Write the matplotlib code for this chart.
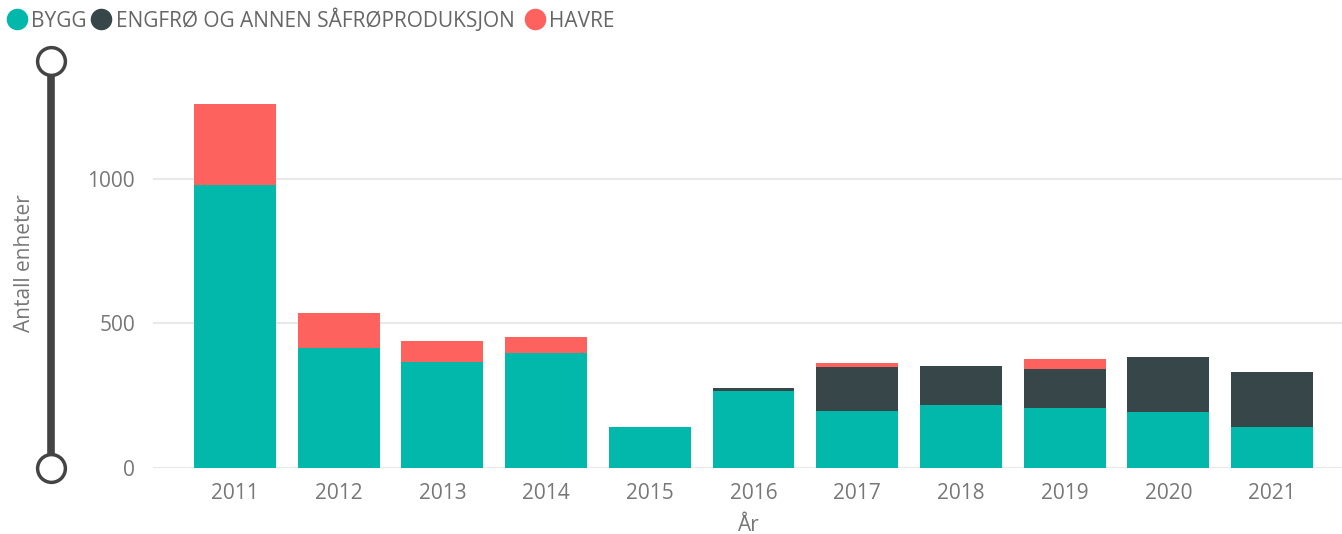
import matplotlib
matplotlib.use("Agg")
import matplotlib.pyplot as plt
from matplotlib.lines import Line2D
import numpy as np

years = ["2011", "2012", "2013", "2014", "2015", "2016", "2017", "2018", "2019", "2020", "2021"]
bygg = [980, 415, 367, 397, 141, 266, 196, 217, 207, 193, 141]
engfro = [0, 0, 0, 0, 0, 10, 153, 134, 135, 190, 190]
havre = [281, 121, 72, 56, 0, 0, 14, 0, 34, 0, 0]

series_names = ["BYGG", "ENGFRØ OG ANNEN SÅFRØPRODUKSJON", "HAVRE"]
colors = ["#01B8AA", "#374649", "#FD625E"]
yticks = [0, 500, 1000]

plt.rcParams['font.family'] = ['Open Sans', 'DejaVu Sans']
W, H = 1342, 534
fig = plt.figure(figsize=(W / 100, H / 100), dpi=100)

y0_px, top_px = 467.7, 60
left_px, right_px = 153, 1342
ax = fig.add_axes([left_px / W, 1 - y0_px / H, (right_px - left_px) / W, (y0_px - top_px) / H])

x = np.arange(len(years))
bw = 0.79
b1 = np.array(bygg)
b2 = b1 + np.array(engfro)
ax.bar(x, bygg, bw, color=colors[0], zorder=3)
ax.bar(x, engfro, bw, bottom=b1, color=colors[1], zorder=3)
ax.bar(x, havre, bw, bottom=b2, color=colors[2], zorder=3)

px_per_unit = 288.5 / 1000
ax.set_ylim(0, (y0_px - top_px) / px_per_unit)
ax.set_xlim((left_px - 235) / 103.7, (right_px - 235) / 103.7)
ax.set_yticks(yticks)
ax.set_yticklabels([str(v) for v in yticks])
ax.set_xticks(x)
ax.set_xticklabels(years)
ax.grid(axis='y', color='#E8E8E8', linewidth=1.5, zorder=0)
ax.tick_params(axis='both', length=0, labelsize=15, colors='#777777')
ax.tick_params(axis='y', pad=13)
ax.tick_params(axis='x', pad=11)
for s in ax.spines.values():
    s.set_visible(False)
ax.set_xlabel("År", fontsize=15, color='#777777', labelpad=8)

# y axis decoration
lx = 51 / W
fig.add_artist(Line2D([lx, lx], [1 - 61 / H, 1 - 468 / H], color='#444444', linewidth=5.5,
                      transform=fig.transFigure, zorder=1))
for cy in (61, 468):
    fig.add_artist(Line2D([lx], [1 - cy / H], marker='o', markersize=20, markerfacecolor='white',
                          markeredgecolor='#444444', markeredgewidth=2.5, transform=fig.transFigure,
                          zorder=2))
fig.text(25 / W, 1 - 263 / H, "Antall enheter", rotation=90, ha='center', va='center',
         fontsize=15, color='#777777')

# legend (manual entries)
marker_x = [17, 101, 535]
text_x = [31, 116, 549]
ly = 1 - 19 / H
for name, c, mx, tx in zip(series_names, colors, marker_x, text_x):
    fig.add_artist(Line2D([mx / W], [ly], marker='o', linestyle='', markersize=14.5,
                          markerfacecolor=c, markeredgecolor=c, transform=fig.transFigure))
    fig.text(tx / W, 1 - 27 / H, name, ha='left', va='baseline', fontsize=15, color='#666666')

fig.savefig("out.png", dpi=100)
